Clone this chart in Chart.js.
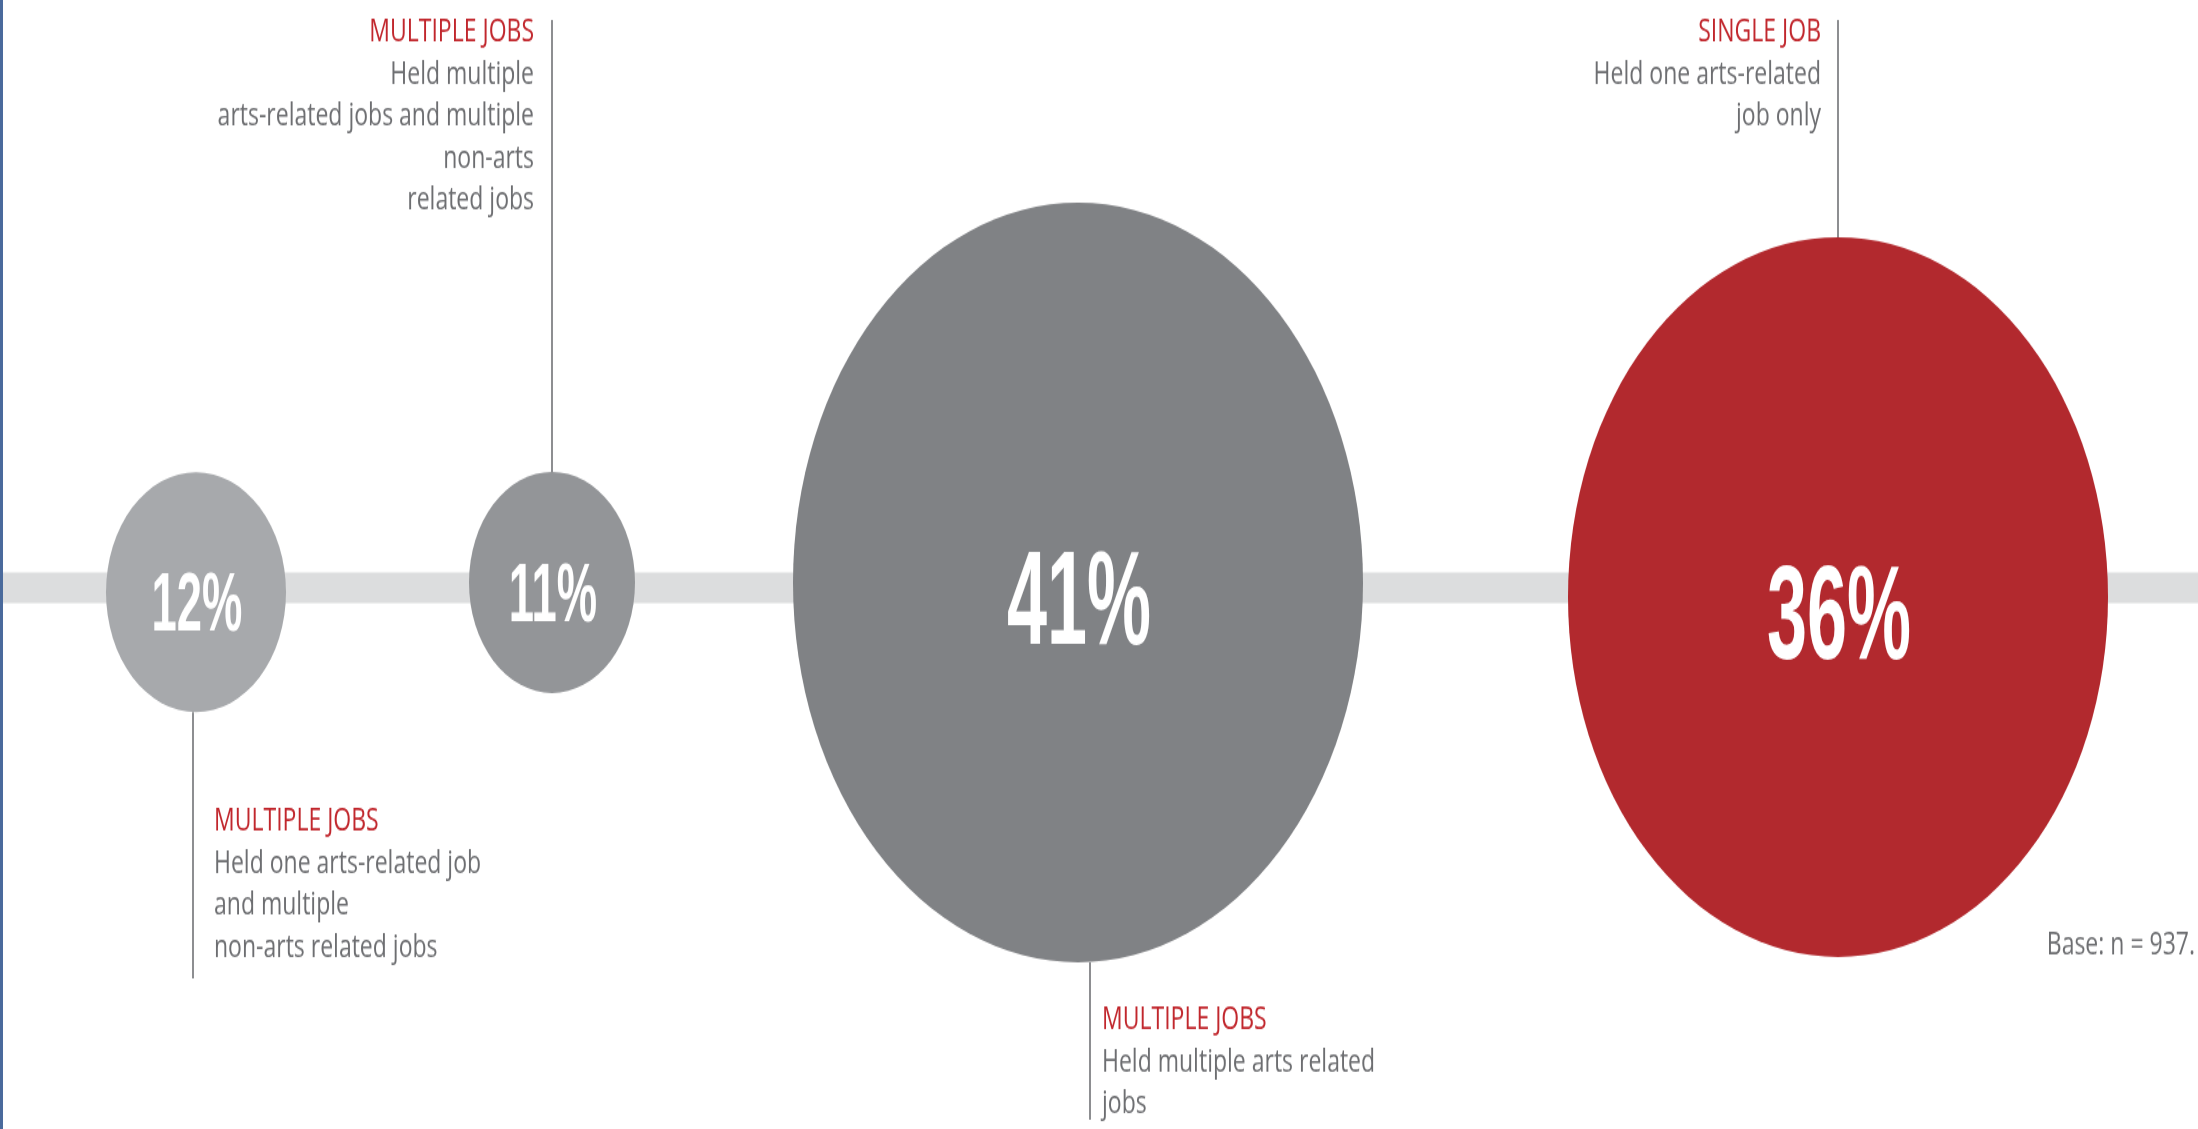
<!DOCTYPE html>
<html>
<head>
<meta charset="utf-8">
<title>Arts-related jobs</title>
<script src="https://cdn.jsdelivr.net/npm/chart.js@4.4.1/dist/chart.umd.min.js"></script>
<style>
    html, body { margin: 0; padding: 0; background: #ffffff; overflow: hidden; }
    #page { position: relative; width: 2198px; height: 1129px; }
    /* the source graphic is stretched vertically, so the whole chart is drawn flat and scaled */
    #stretch { position: absolute; left: 0; top: 0; width: 2198px; height: 847px; transform: scaleY(1.33294); transform-origin: 0 0; }
    #edge { position: absolute; left: 0; top: 0; width: 3px; height: 1129px; background: #4a6a9c; }
</style>
</head>
<body>
<div id="page">
    <div id="stretch"><canvas id="jobsChart" width="2198" height="847"></canvas></div>
    <div id="edge"></div>
</div>
<script>
// data
const titles = ['MULTIPLE JOBS', 'MULTIPLE JOBS', 'MULTIPLE JOBS', 'SINGLE JOB'];
const descriptions = [
    ['Held one arts-related job', 'and multiple', 'non-arts related jobs'],
    ['Held multiple', 'arts-related jobs and multiple', 'non-arts', 'related jobs'],
    ['Held multiple arts related', 'jobs'],
    ['Held one arts-related', 'job only']
];
const shares = [12, 11, 41, 36];
const baseNote = 'Base: n = 937.';

// layout
const trackX = [196, 552, 1078, 1838];
const trackY = [-0.008, 0.01, 0.01, -0.017];   // small drift off the band, as in the original
const circleRadius = [90, 83, 285, 270];
const circleColors = ['#a7a9ac', '#939598', '#808285', '#b2292e'];
const pctFontSize = [63, 63, 100, 100];

const callouts = [
    { side: 'bottom', lineShift: -3, lineEnd: 734, textX: 214, align: 'left', baseline: 623 },
    { side: 'top', lineShift: 0, lineEnd: 15, textX: 534, align: 'right', baseline: 31 },
    { side: 'bottom', lineShift: 12, lineEnd: 840, textX: 1102, align: 'left', baseline: 772 },
    { side: 'top', lineShift: 0, lineEnd: 15, textX: 1821, align: 'right', baseline: 31 }
];
const LINE_GAP = 31.5;

const labelPlugin = {
    id: 'jobLabels',
    afterDatasetsDraw(chart) {
        const ctx = chart.ctx;
        const meta = chart.getDatasetMeta(1);

        meta.data.forEach((el, i) => {
            const r = el.options.radius;
            const c = callouts[i];

            // leader line
            const lx = el.x + c.lineShift;
            ctx.save();
            ctx.strokeStyle = '#8d8e91';
            ctx.lineWidth = 2;
            ctx.beginPath();
            if (c.side === 'top') {
                ctx.moveTo(lx, c.lineEnd);
                ctx.lineTo(lx, el.y - r);
            } else {
                ctx.moveTo(lx, el.y + r);
                ctx.lineTo(lx, c.lineEnd);
            }
            ctx.stroke();

            // title + description
            ctx.textAlign = c.align;
            ctx.textBaseline = 'alphabetic';
            ctx.font = '23px "Open Sans"';
            ctx.fillStyle = '#c1272d';
            ctx.fillText(titles[i], c.textX, c.baseline);
            ctx.fillStyle = '#6d6e71';
            descriptions[i].forEach((line, k) => {
                ctx.fillText(line, c.textX, c.baseline + LINE_GAP * (k + 1));
            });

            // percentage, condensed
            const size = pctFontSize[i];
            ctx.translate(el.x + 1, el.y + size * 0.358 + size * 0.1);
            ctx.scale(0.72, 1);
            ctx.font = 'bold ' + size + 'px "Liberation Sans", Arial, sans-serif';
            ctx.fillStyle = '#ffffff';
            ctx.textAlign = 'center';
            ctx.fillText(shares[i] + '%', 0, 0);
            ctx.restore();
        });

        ctx.save();
        ctx.font = '23px "Open Sans"';
        ctx.fillStyle = '#6d6e71';
        ctx.textAlign = 'right';
        ctx.fillText(baseNote, 2195, 716);
        ctx.restore();
    }
};

const ctx = document.getElementById('jobsChart');

new Chart(ctx, {
    type: 'bubble',
    data: {
        datasets: [
            {
                type: 'line',
                data: [{ x: 0, y: 0 }, { x: 2198, y: 0 }],
                borderColor: '#dcddde',
                borderWidth: 23,
                borderCapStyle: 'butt',
                pointRadius: 0,
                clip: false,
                order: 2
            },
            {
                data: shares.map((v, i) => ({ x: trackX[i], y: trackY[i], r: circleRadius[i] })),
                backgroundColor: circleColors,
                borderWidth: 0,
                clip: false,
                order: 1
            }
        ]
    },
    options: {
        responsive: false,
        animation: false,
        events: [],
        layout: { autoPadding: false, padding: { top: 35, bottom: 0, left: 0, right: 0 } },
        scales: {
            x: { type: 'linear', min: 0, max: 2198, display: false },
            y: { type: 'linear', min: -1, max: 1, display: false }
        },
        plugins: {
            legend: { display: false },
            tooltip: { enabled: false }
        }
    },
    plugins: [labelPlugin]
});
</script>
</body>
</html>
